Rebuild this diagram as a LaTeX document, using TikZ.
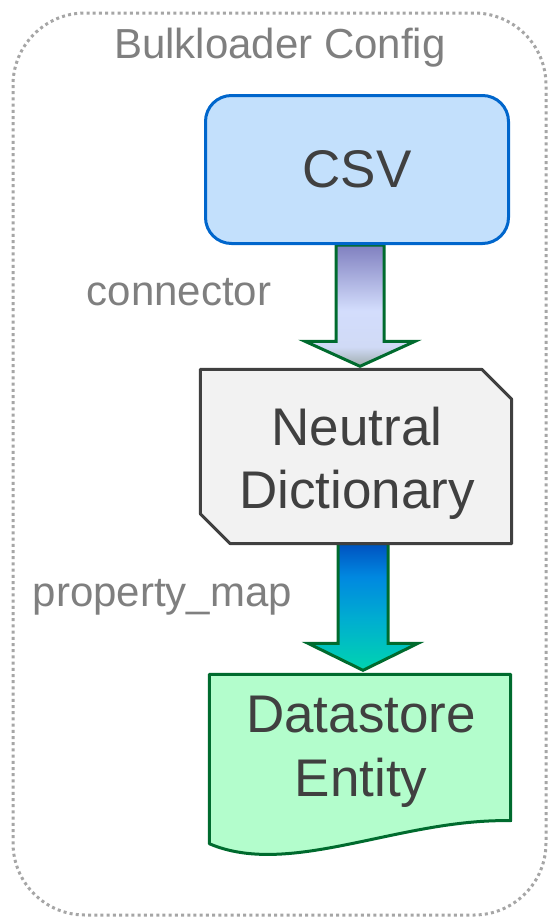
\documentclass[tikz,border=0pt]{standalone}
\usepackage{fontspec}
\setmainfont{Liberation Sans}
\usetikzlibrary{calc}

\definecolor{framegray}{HTML}{A6A6A6}
\definecolor{labelgray}{HTML}{7F7F7F}
\definecolor{inktext}{HTML}{404040}
\definecolor{csvfill}{HTML}{C3E0FC}
\definecolor{csvline}{HTML}{0066CC}
\definecolor{dictfill}{HTML}{F2F2F2}
\definecolor{dictline}{HTML}{404040}
\definecolor{storefill}{HTML}{B3FDCC}
\definecolor{greenline}{HTML}{006B2E}
% upper arrow: violet into pale blue, greyish at the tip
\definecolor{aoneA}{HTML}{8080C0}
\definecolor{aoneB}{HTML}{D3DDFC}
\definecolor{aoneC}{HTML}{D0DAF6}
\definecolor{aoneD}{HTML}{9EACAC}
% lower arrow: blue into turquoise
\definecolor{atwoA}{HTML}{0052C0}
\definecolor{atwoB}{HTML}{0088E0}
\definecolor{atwoC}{HTML}{00AED0}
\definecolor{atwoD}{HTML}{00D4B0}

\pgfdeclareverticalshading{arrowone}{100bp}{%
  color(0bp)=(aoneD); color(25bp)=(aoneD); color(33bp)=(aoneC);
  color(48bp)=(aoneB); color(75bp)=(aoneA); color(100bp)=(aoneA)}
\pgfdeclareverticalshading{arrowtwo}{100bp}{%
  color(0bp)=(atwoD); color(25bp)=(atwoD); color(45bp)=(atwoC);
  color(62bp)=(atwoB); color(75bp)=(atwoA); color(100bp)=(atwoA)}

\newcommand{\blockarrow}[5]{% start, tip, shading, shaft half width, head length
  \shadedraw[arrowline, shading=#3]
    let \p1=(#1), \p2=(#2) in
    (\x1-#4pt,\y1) -- (\x1-#4pt,\y2+#5pt) -- (\x1-55pt,\y2+#5pt) -- (\x1,\y2)
    -- (\x1+55pt,\y2+#5pt) -- (\x1+#4pt,\y2+#5pt) -- (\x1+#4pt,\y1) -- cycle;}

\begin{document}
\begin{tikzpicture}[x=1pt,y=-1pt,
  frame/.style={draw=framegray, line width=3pt, dash pattern=on 3pt off 3.2pt, rounded corners=72pt},
  labeltext/.style={text=labelgray, font=\fontsize{42}{50}\selectfont, inner sep=0pt, anchor=base},
  boxtext/.style={text=inktext, font=\fontsize{53}{63}\selectfont, inner sep=0pt, align=center},
  csvbox/.style={draw=csvline, fill=csvfill, line width=3pt, rounded corners=26pt,
    minimum width=303pt, minimum height=148pt, boxtext},
  outline/.style={rectangle, inner sep=0pt},
  dictline/.style={draw=dictline, fill=dictfill, line width=3pt, line join=round},
  storeline/.style={draw=greenline, fill=storefill, line width=3pt, line join=round},
  arrowline/.style={draw=greenline, line width=3pt, line join=miter}]
\useasboundingbox (0,0) rectangle (548,918);

% dotted frame of the configuration
\draw[frame] (13,13) rectangle (546,915);
\node[labeltext] (title) at (280,58) {Bulkloader Config};

% box outlines (positions of the three stages)
\node[outline, minimum width=311pt, minimum height=174pt] (dict) at (356,456.5) {};
\node[outline, minimum width=301pt, minimum height=169pt] (store) at (360,759) {};

% block arrows between the stages
\coordinate (aones) at ($(357,245)+(3,0)$);
\coordinate (aonee) at ($(aones |- dict.north)+(0,-3)$);
\coordinate (atwos) at ($(dict.south)+(7,0)$);
\coordinate (atwoe) at ($(atwos |- store.north)+(0,-4)$);
\blockarrow{aones}{aonee}{arrowone}{24}{25}
\blockarrow{atwos}{atwoe}{arrowtwo}{25}{27}

% CSV source
\node[csvbox] (csv) at (357,169.5) {CSV};

% neutral dictionary: rectangle with two cut corners
\path[dictline] (dict.north west) -- ($(dict.north east)+(-30,0)$)
  -- ($(dict.north east)+(0,30)$) -- (dict.south east)
  -- ($(dict.south west)+(30,0)$) -- ($(dict.south west)+(0,-30)$) -- cycle;
\node[boxtext] (dicttext) at (357,462.5)
  {\rule{0pt}{40pt}Neutral\\Dictionary\rule[-12pt]{0pt}{12pt}};

% datastore entity: document shape with a wavy bottom
\path[storeline] (store.north west) -- (store.north east)
  -- ($(store.south east)+(0,-23)$)
  .. controls ($(store.south east)+(-110.5,-25.5)$) and ($(store.south west)+(80.5,34.5)$)
  .. (store.south west) -- cycle;
\node[boxtext, font=\fontsize{53}{64}\selectfont] (storetext) at (361,750.5)
  {\rule{0pt}{40pt}Datastore\\Entity\rule[-12pt]{0pt}{12pt}};

% arrow labels
\node[labeltext] (conn) at (179,305) {connector};
\node[labeltext] (pmap) at (162.5,606) {property\_map};
\end{tikzpicture}
\end{document}
